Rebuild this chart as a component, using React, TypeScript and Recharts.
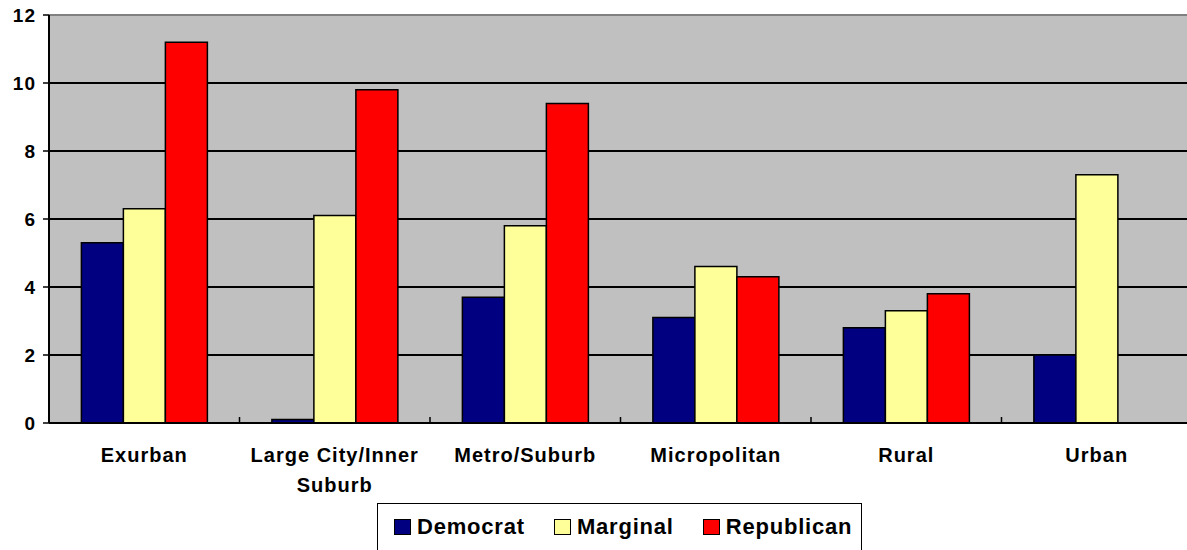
import React from 'react';
import { BarChart, Bar, XAxis, YAxis, CartesianGrid, Legend, ReferenceLine } from 'recharts';

const categories = ['Exurban', 'Large City/Inner Suburb', 'Metro/Suburb', 'Micropolitan', 'Rural', 'Urban'];
const categoryLines = [['Exurban'], ['Large City/Inner', 'Suburb'], ['Metro/Suburb'], ['Micropolitan'], ['Rural'], ['Urban']];
const democrat = [5.3, 0.1, 3.7, 3.1, 2.8, 2.0];
const marginal = [6.3, 6.1, 5.8, 4.6, 3.3, 7.3];
const republican = [11.2, 9.8, 9.4, 4.3, 3.8, 0];
const yTicks = [0, 2, 4, 6, 8, 10, 12];

const seriesNames = ['Democrat', 'Marginal', 'Republican'];
const seriesColors = ['#000080', '#FFFF99', '#FF0000'];

const data = categories.map((c, i) => ({
  name: c,
  Democrat: democrat[i],
  Marginal: marginal[i],
  Republican: republican[i],
}));

const FONT = '"Liberation Sans", Arial, sans-serif';

const XTick = (props: any) => {
  const { x, y, payload, index } = props;
  const lines = categoryLines[index] || [String(payload.value)];
  const half = payload.offset || 0;
  return (
    <g>
      {index > 0 && (
        <line x1={x - half} x2={x - half} y1={y - 6} y2={y} stroke="#000" strokeWidth={1.5} />
      )}
      <text
        x={x}
        y={y + 39}
        textAnchor="middle"
        fontFamily={FONT}
        fontWeight="bold"
        fontSize={20}
        letterSpacing={1}
        fill="#000"
      >
        {lines.map((l: string, i: number) => (
          <tspan key={i} x={x} dy={i === 0 ? 0 : 30}>{l}</tspan>
        ))}
      </text>
    </g>
  );
};

const LegendBox = () => (
  <div
    style={{
      width: 485,
      height: 48,
      border: '1.5px solid #000',
      background: '#fff',
      boxSizing: 'border-box',
      display: 'flex',
      alignItems: 'center',
      paddingLeft: 16,
      fontFamily: FONT,
      fontWeight: 'bold',
      fontSize: 22,
      letterSpacing: 0.8,
      color: '#000',
    }}
  >
    {seriesNames.map((n, i) => (
      <div key={n} style={{ display: 'flex', alignItems: 'center', marginRight: i < 2 ? 29 : 0 }}>
        <span
          style={{
            display: 'inline-block',
            width: 17,
            height: 16,
            background: seriesColors[i],
            border: '1.5px solid #000',
            boxSizing: 'border-box',
            marginRight: 6,
          }}
        />
        <span>{n}</span>
      </div>
    ))}
  </div>
);

export default function App() {
  return (
    <div style={{ position: 'absolute', left: 0, top: 0, width: 1187, height: 550, overflow: 'hidden', background: '#fff' }}>
      <BarChart
        width={1192}
        height={550}
        data={data}
        margin={{ top: 15, right: 0, left: 0, bottom: 47 }}
        barCategoryGap="17%"
        barGap={0}
      >
        <CartesianGrid fill="#C0C0C0" stroke="#000" strokeWidth={2} vertical={false} />
        <ReferenceLine y={12} stroke="#808080" strokeWidth={2} />
        <XAxis
          dataKey="name"
          height={80}
          interval={0}
          tickSize={0}
          tickMargin={0}
          tick={<XTick />}
          axisLine={{ stroke: '#000', strokeWidth: 2 }}
        />
        <YAxis
          width={49}
          domain={[0, 12]}
          ticks={yTicks}
          interval={0}
          tickSize={6}
          tickMargin={7}
          axisLine={{ stroke: '#000', strokeWidth: 2 }}
          tickLine={{ stroke: '#000', strokeWidth: 1.5 }}
          tick={{ fill: '#000', fontFamily: FONT, fontWeight: 'bold', fontSize: 19, letterSpacing: 1 }}
        />
        <Legend
          layout="horizontal"
          verticalAlign="middle"
          align="center"
          wrapperStyle={{ position: 'absolute', left: 377, top: 503, width: 485 }}
          content={<LegendBox />}
        />
        {seriesNames.map((n, i) => (
          <Bar key={n} dataKey={n} fill={seriesColors[i]} stroke="#000" strokeWidth={1.5} isAnimationActive={false} />
        ))}
      </BarChart>
    </div>
  );
}
